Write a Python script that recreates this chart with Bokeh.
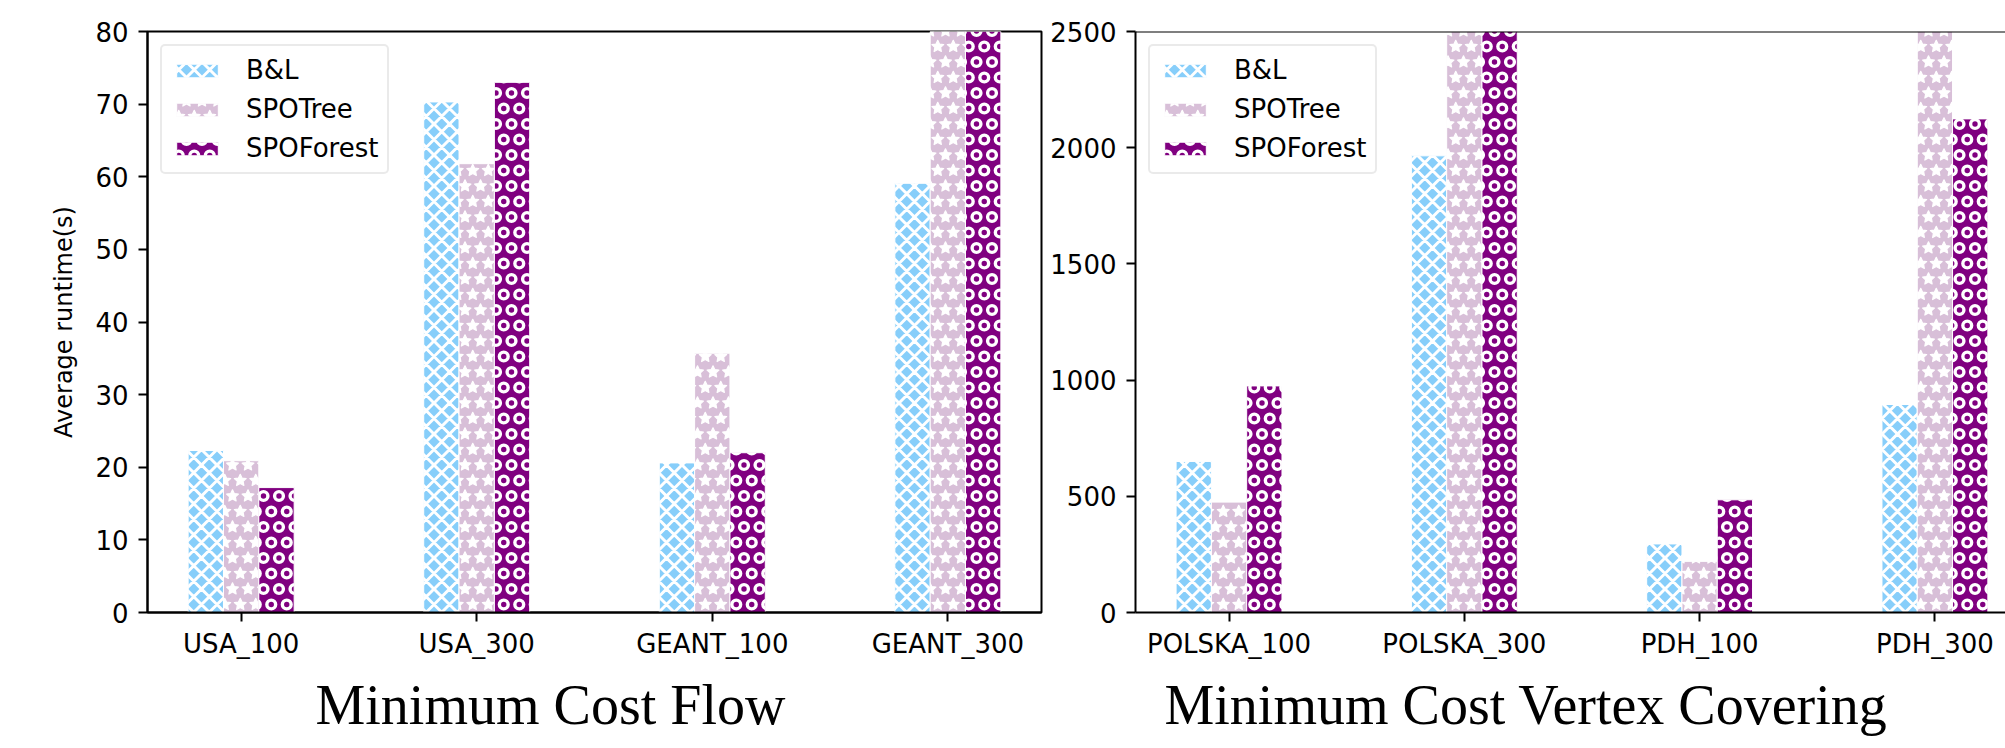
import base64
import math
from bokeh.plotting import figure
from bokeh.models import (FixedTicker, Range1d, Legend, LegendItem, ImageURLTexture,
                          Span, Title)
from bokeh.core.properties import value
from bokeh.layouts import row
from bokeh.embed import file_html
from bokeh.resources import INLINE

# ---------------- data ----------------
mcf_categories = ["USA_100", "USA_300", "GEANT_100", "GEANT_300"]
mcf_bl = [22.3, 70.3, 20.6, 59.1]
mcf_spotree = [20.9, 61.8, 35.7, 86.0]
mcf_spoforest = [17.2, 73.0, 22.0, 88.0]

vc_categories = ["POLSKA_100", "POLSKA_300", "PDH_100", "PDH_300"]
vc_bl = [650, 1965, 295, 895]
vc_spotree = [475, 2900, 220, 2950]
vc_spoforest = [975, 2800, 485, 2124]

series_names = ["B&L", "SPOTree", "SPOForest"]
series_colors = ["#87CEFA", "#D8BFD8", "#800080"]

mcf_yticks = [0, 10, 20, 30, 40, 50, 60, 70, 80]
vc_yticks = [0, 500, 1000, 1500, 2000, 2500]

ylabel = "Average runtime(s)"
titles = ["Minimum Cost Flow", "Minimum Cost Vertex Covering"]

# ---------------- hatch tiles (white marks on transparent) ----------------
S = 31
D = S / 2
STAGGER = [(0, 0), (D, 0), (D / 2, D), (3 * D / 2, D)]


def _wrap(pts):
    for (px, py) in pts:
        for ox in (-S, 0, S):
            for oy in (-S, 0, S):
                yield px + ox, py + oy


def _uri(body):
    svg = ('<svg xmlns="http://www.w3.org/2000/svg" width="%d" height="%d" '
           'viewBox="0 0 %d %d">%s</svg>' % (S, S, S, S, body))
    return "data:image/svg+xml;base64," + base64.b64encode(svg.encode()).decode()


def cross_tile():
    d = []
    for k in range(-3, 4):
        c = k * D
        d.append("M%.2f 0 L%.2f %.2f" % (c, c + S, S))
        d.append("M%.2f %.2f L%.2f 0" % (c, S, c + S))
    return _uri('<path d="%s" stroke="white" stroke-width="3" '
                'stroke-linecap="square" fill="none"/>' % " ".join(d))


def ring_tile():
    body = "".join('<circle cx="%.2f" cy="%.2f" r="4.4" fill="none" stroke="white" '
                   'stroke-width="3.4"/>' % (x, y) for x, y in _wrap(STAGGER))
    return _uri(body)


def _star_path(cx, cy, R, r):
    seg = []
    for i in range(10):
        a = -math.pi / 2 + i * math.pi / 5
        rr = R if i % 2 == 0 else r
        seg.append("%s%.2f %.2f" % ("M" if i == 0 else "L",
                                    cx + rr * math.cos(a), cy + rr * math.sin(a)))
    seg.append("Z")
    return " ".join(seg)


def star_tile():
    d = " ".join(_star_path(cx, cy, 6.2, 3.0) for cx, cy in _wrap(STAGGER))
    return _uri('<path d="%s" fill="white" stroke="white" stroke-width="1.2" '
                'stroke-linejoin="round"/>' % d)


textures = {
    "cross": ImageURLTexture(url=cross_tile()),
    "stars": ImageURLTexture(url=star_tile()),
    "ring": ImageURLTexture(url=ring_tile()),
}
series_hatch = ["cross", "stars", "ring"]

TICK_FONT = "DejaVu Sans"
BAR_W = 0.15


def style_axes(p, yticks, cats):
    p.xgrid.visible = False
    p.ygrid.visible = False
    for ax in (p.xaxis[0], p.yaxis[0]):
        ax.axis_line_width = 2
        ax.axis_line_color = "black"
        ax.major_tick_line_width = 2
        ax.major_tick_line_color = "black"
        ax.major_tick_out = 9
        ax.major_tick_in = 0
        ax.minor_tick_out = 0
        ax.minor_tick_in = 0
        ax.major_label_text_font = TICK_FONT
        ax.major_label_text_font_size = "26px"
        ax.major_label_text_color = "black"
    p.xaxis[0].ticker = FixedTicker(ticks=list(range(len(cats))))
    p.xaxis[0].major_label_overrides = {i: c for i, c in enumerate(cats)}
    p.xaxis[0].major_label_standoff = 7
    p.yaxis[0].ticker = FixedTicker(ticks=yticks)
    p.yaxis[0].major_label_standoff = 10


def add_bars(p, series):
    renderers = []
    for j, vals in enumerate(series):
        xs = [i + (j - 1) * BAR_W for i in range(len(vals))]
        r = p.vbar(x=xs, top=vals, width=BAR_W, bottom=0,
                   fill_color=series_colors[j], line_color="white", line_width=1,
                   hatch_extra=textures, hatch_pattern=value(series_hatch[j]),
                   hatch_scale=S)
        renderers.append(r)
    return renderers


def add_legend(p, renderers):
    items = [LegendItem(label=n, renderers=[r]) for n, r in zip(series_names, renderers)]
    lg = Legend(items=items, location="top_left", margin=13, padding=9,
                spacing=9, glyph_width=52, glyph_height=17, label_height=30,
                label_standoff=23, label_text_font=TICK_FONT,
                label_text_font_size="26px", label_text_color="black",
                border_line_color="#d6d6d6", border_line_width=2,
                border_radius=5, background_fill_color="white",
                background_fill_alpha=0.8)
    p.add_layout(lg, "center")


def add_title(p, text, xoff):
    p.add_layout(Title(text=text, align="left", offset=xoff,
                       text_font="Liberation Serif", text_font_size="56px",
                       text_font_style="normal", text_color="black",
                       standoff=20), "below")


# ---------------- left panel ----------------
p1 = figure(width=1045, height=748, output_backend="svg", toolbar_location=None,
            x_range=Range1d(-0.3975, 3.3975), y_range=Range1d(0, 80),
            min_border_left=147, min_border_right=4, min_border_top=31,
            min_border_bottom=136, background_fill_color="white",
            border_fill_color="white")
p1.outline_line_color = "black"
p1.outline_line_width = 2
style_axes(p1, mcf_yticks, mcf_categories)
p1.yaxis[0].axis_label = ylabel
p1.yaxis[0].axis_label_text_font = TICK_FONT
p1.yaxis[0].axis_label_text_font_size = "24px"
p1.yaxis[0].axis_label_text_font_style = "normal"
p1.yaxis[0].axis_label_text_color = "black"
p1.yaxis[0].axis_label_standoff = 14
r1 = add_bars(p1, [mcf_bl, mcf_spotree, mcf_spoforest])
add_legend(p1, r1)
add_title(p1, titles[0], 168)

# ---------------- right panel ----------------
p2 = figure(width=960, height=748, output_backend="svg", toolbar_location=None,
            x_range=Range1d(-0.3975, 3.30), y_range=Range1d(0, 2500),
            min_border_left=90, min_border_right=0, min_border_top=31,
            min_border_bottom=136, background_fill_color="white",
            border_fill_color="white")
p2.outline_line_color = None
style_axes(p2, vc_yticks, vc_categories)
r2 = add_bars(p2, [vc_bl, vc_spotree, vc_spoforest])
p2.add_layout(Span(location=2500, dimension="width", line_color="black", line_width=2))
add_legend(p2, r2)
add_title(p2, titles[1], 29)

layout = row(p1, p2, spacing=0)
open("out.html", "w").write(file_html(layout, INLINE))
